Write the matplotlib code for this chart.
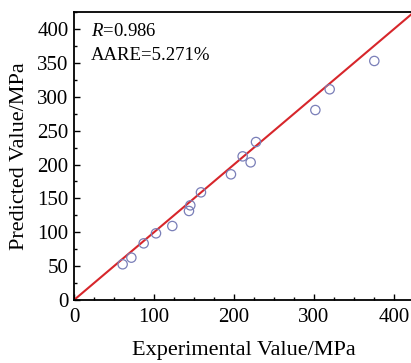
import matplotlib
matplotlib.use("Agg")
import matplotlib.pyplot as plt
from matplotlib.ticker import MultipleLocator

plt.rcParams['font.family'] = ['Liberation Serif', 'DejaVu Serif']
plt.rcParams['mathtext.fontset'] = 'custom'
plt.rcParams['mathtext.rm'] = 'Liberation Serif'
plt.rcParams['mathtext.it'] = 'Liberation Serif:italic'

experimental = [60.8, 71.7, 87.1, 102.5, 122.9, 143.7, 145.4, 158.7, 196.2,
                210.8, 220.8, 227.5, 301.7, 319.6, 375.4]
predicted = [52.7, 62.5, 83.6, 98.4, 109.2, 131.4, 139.7, 158.9, 185.5,
             212.0, 203.2, 233.2, 280.4, 311.0, 352.8]
line_range = [0, 425]

W, H = 411, 363
fig = plt.figure(figsize=(W / 100, H / 100), dpi=100)
x0, y0 = 74, 300
sx, sy = 0.8, 0.6775
ax = fig.add_axes([x0 / W, (H - y0) / H, 425 * sx / W, 425 * sy / H])

ax.plot(line_range, line_range, color='#d7262b', lw=1.5, zorder=2)
ax.scatter(experimental, predicted, s=45, facecolors='none',
           edgecolors='#7a7fb8', linewidths=0.9, zorder=3)

ax.set_xlim(0, 425)
ax.set_ylim(0, 425)
ax.xaxis.set_major_locator(MultipleLocator(100))
ax.yaxis.set_major_locator(MultipleLocator(50))
ax.xaxis.set_minor_locator(MultipleLocator(25))
ax.yaxis.set_minor_locator(MultipleLocator(25))
ax.tick_params(which='both', direction='in', labelsize=15)
ax.tick_params(axis='x', which='major', pad=6)
ax.tick_params(axis='y', which='major', pad=4)
ax.tick_params(which='major', length=4, width=1)
ax.tick_params(which='minor', length=2.5, width=1)
ax.tick_params(top=False, right=False)
for s in ['left', 'bottom', 'top']:
    ax.spines[s].set_linewidth(1.3)
ax.spines['right'].set_visible(False)

ax.set_xlabel('Experimental Value/MPa', fontsize=16, labelpad=10)
ax.set_ylabel('Predicted Value/MPa', fontsize=16, labelpad=6)

ax.text(0.05, 0.932, r'$R$=0.986', transform=ax.transAxes, fontsize=13.5,
        va='center', ha='left')
ax.text(0.05, 0.85, 'AARE=5.271%', transform=ax.transAxes, fontsize=13.5,
        va='center', ha='left')

fig.savefig('out.png', dpi=100)
